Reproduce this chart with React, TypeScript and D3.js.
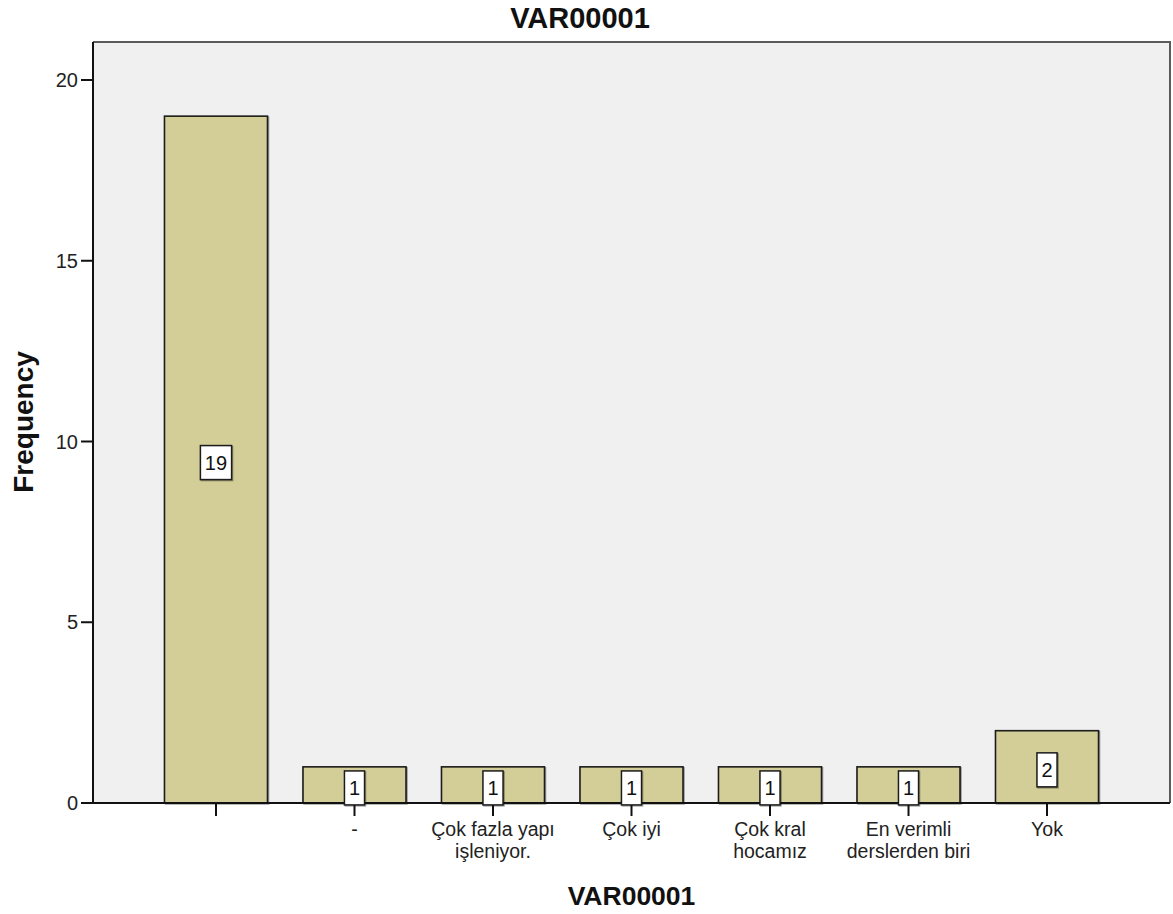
import React from "react";
import * as d3 from "d3";

const categories: string[] = [
  "",
  "-",
  "Çok fazla yapı\nişleniyor.",
  "Çok iyi",
  "Çok kral\nhocamız",
  "En verimli\nderslerden biri",
  "Yok",
];
const frequencies: number[] = [19, 1, 1, 1, 1, 1, 2];
const yTicks: number[] = [0, 5, 10, 15, 20];
const chartTitle = "VAR00001";
const xTitle = "VAR00001";
const yTitle = "Frequency";

const W = 1173;
const H = 914;
const plot = { left: 93, right: 1170, top: 42, bottom: 803 };
const FONT = "'Liberation Sans', Arial, sans-serif";

export default function App() {
  const x = d3
    .scaleBand<string>()
    .domain(categories.map((_, i) => String(i)))
    .range([plot.left, plot.right])
    .paddingInner(0.256)
    .paddingOuter(0.516);
  const y = d3.scaleLinear().domain([0, 20]).range([plot.bottom, 80]);

  const bw = x.bandwidth();

  return (
    <svg
      width={W}
      height={H}
      style={{ position: "absolute", left: 0, top: 0, background: "#fff" }}
      fontFamily={FONT}
    >
      <defs>
        <filter id="sh" x="-10%" y="-10%" width="130%" height="130%">
          <feDropShadow dx="1" dy="1" stdDeviation="0.6" floodColor="#000" floodOpacity="0.35" />
        </filter>
      </defs>
      <rect
        x={plot.left}
        y={plot.top}
        width={plot.right - plot.left}
        height={plot.bottom - plot.top}
        fill="#f0f0f0"
      />
      <path
        d={`M${plot.left},${plot.top}H${plot.right}V${plot.bottom}`}
        fill="none"
        stroke="#5a5a5a"
        strokeWidth={2}
      />
      {frequencies.map((v, i) => (
        <rect
          key={"b" + i}
          x={x(String(i))!}
          y={y(v)}
          width={bw}
          height={y(0) - y(v)}
          fill="#d3ce98"
          stroke="#1a1a1a"
          strokeWidth={1.6}
          filter="url(#sh)"
        />
      ))}
      <line x1={plot.left} x2={plot.left} y1={plot.top} y2={plot.bottom} stroke="#111" strokeWidth={2} />
      <line x1={plot.left} x2={plot.right} y1={plot.bottom} y2={plot.bottom} stroke="#111" strokeWidth={2} />
      {yTicks.map((t) => (
        <g key={"yt" + t}>
          <line x1={plot.left - 12} x2={plot.left} y1={y(t)} y2={y(t)} stroke="#111" strokeWidth={2} />
          <text x={plot.left - 15} y={y(t) + 7} textAnchor="end" fontSize={20} fill="#222">
            {t}
          </text>
        </g>
      ))}
      {categories.map((c, i) => {
        const cx = x(String(i))! + bw / 2;
        const lines = c.split("\n");
        return (
          <g key={"xt" + i}>
            <line x1={cx} x2={cx} y1={plot.bottom} y2={plot.bottom + 13} stroke="#111" strokeWidth={2} />
            <text x={cx} y={836} textAnchor="middle" fontSize={19.5} fill="#222">
              {lines.map((ln, j) => (
                <tspan key={j} x={cx} dy={j === 0 ? 0 : 21.5}>
                  {ln}
                </tspan>
              ))}
            </text>
          </g>
        );
      })}
      {frequencies.map((v, i) => {
        const cx = x(String(i))! + bw / 2;
        const cy = (y(v) + y(0)) / 2 + 3;
        const label = String(v);
        const tw = label.length * 11.1;
        const boxW = tw + 9;
        const boxH = 34;
        return (
          <g key={"l" + i}>
            <rect
              x={cx - boxW / 2}
              y={cy - boxH / 2}
              width={boxW}
              height={boxH}
              fill="#fff"
              stroke="#1a1a1a"
              strokeWidth={1.5}
              filter="url(#sh)"
            />
            <text x={cx} y={cy + 7.5} textAnchor="middle" fontSize={20} fill="#111">
              {label}
            </text>
          </g>
        );
      })}
      <text x={580} y={28} textAnchor="middle" fontSize={29} fontWeight="bold" fill="#111">
        {chartTitle}
      </text>
      <text x={(plot.left + plot.right) / 2} y={905} textAnchor="middle" fontSize={26.5} fontWeight="bold" fill="#111">
        {xTitle}
      </text>
      <text
        transform={`translate(33,422) rotate(-90)`}
        textAnchor="middle"
        fontSize={28}
        fontWeight="bold"
        fill="#111"
      >
        {yTitle}
      </text>
    </svg>
  );
}
